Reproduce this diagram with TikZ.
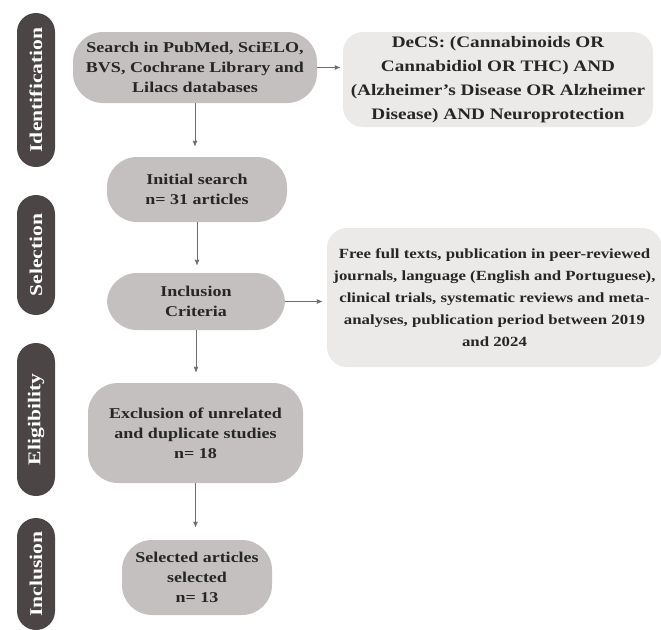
\documentclass[tikz,border=0pt]{standalone}
\usepackage{fontspec}
\setmainfont{Liberation Serif}[FakeStretch=1.2]
\usepackage{tikz}
\usetikzlibrary{arrows}
\definecolor{prbar}{HTML}{4B4545}
\definecolor{prbox}{HTML}{C4C0BF}
\definecolor{prnote}{HTML}{ECEAE9}
\definecolor{prline}{HTML}{6E6E6E}
\definecolor{prtext}{HTML}{262626}

\begin{document}
\begin{tikzpicture}[x=1pt, y=-1pt,
		phase/.style={fill=prbar, rounded corners=19pt, minimum height=38pt, inner sep=0pt, rotate=90, text=white, font=\fontsize{18}{20}\selectfont\bfseries},
		stepbox/.style={fill=prbox, rounded corners=30pt, align=center, inner sep=2pt, text=prtext, font=\fontsize{15}{20}\selectfont\bfseries},
		notebox/.style={fill=prnote, rounded corners=20pt, align=center, inner sep=2pt, text=prtext},
		flow/.style={draw=prline, line width=0.9pt, -stealth'}]
		\useasboundingbox (0,0) rectangle (661,629);
		% phases
		\node[phase, minimum width=154pt] (identification) at (36,90) {Identification};
		\node[phase, minimum width=120pt] (selection) at (36,255) {Selection};
		\node[phase, minimum width=153pt] (eligibility) at (36,419.5) {Eligibility};
		\node[phase, minimum width=112pt] (inclusion) at (36,574) {Inclusion};
		% steps
		\node[stepbox, minimum width=244pt, minimum height=71pt] (search) at (195,67.5) {Search in PubMed, SciELO,\\BVS, Cochrane Library and\\Lilacs databases};
		\node[notebox, minimum width=310pt, minimum height=95pt, font=\fontsize{16}{24}\selectfont\bfseries] (decs) at (498,79.5) {DeCS: (Cannabinoids OR\\Cannabidiol OR THC) AND\\(Alzheimer's Disease OR Alzheimer\\Disease) AND Neuroprotection};
		\node[stepbox, minimum width=180pt, minimum height=65pt] (initial) at (197,189.5) {Initial search\\n= 31 articles};
		\node[stepbox, minimum width=178pt, minimum height=57pt] (criteria) at (196,301.5) {Inclusion\\Criteria};
		\node[notebox, minimum width=335pt, minimum height=139pt, font=\fontsize{14}{22}\selectfont\bfseries] (criteriatext) at (494.5,297.5) {Free full texts, publication in peer-reviewed\\journals, language (English and Portuguese),\\clinical trials, systematic reviews and meta-\\analyses, publication period between 2019\\and 2024};
		\node[stepbox, minimum width=215pt, minimum height=100pt] (exclusion) at (195.5,433) {Exclusion of unrelated\\and duplicate studies\\n= 18};
		\node[stepbox, minimum width=150pt, minimum height=75pt] (selected) at (197,577.5) {Selected articles\\selected\\n= 13};
		% arrows
		\draw[flow, shorten >=11pt] (search.south) -- (search.south |- initial.north);
		\draw[flow, shorten >=8pt] (initial.south) -- (initial.south |- criteria.north);
		\draw[flow, shorten >=11pt] (criteria.south) -- (criteria.south |- exclusion.north);
		\draw[flow, shorten >=13pt] (exclusion.south) -- (exclusion.south |- selected.north);
		\draw[flow, shorten >=3pt] (search.east) -- (search.east -| decs.west);
		\draw[flow, shorten >=5pt] (criteria.east) -- (criteria.east -| criteriatext.west);
	\end{tikzpicture}
\end{document}
